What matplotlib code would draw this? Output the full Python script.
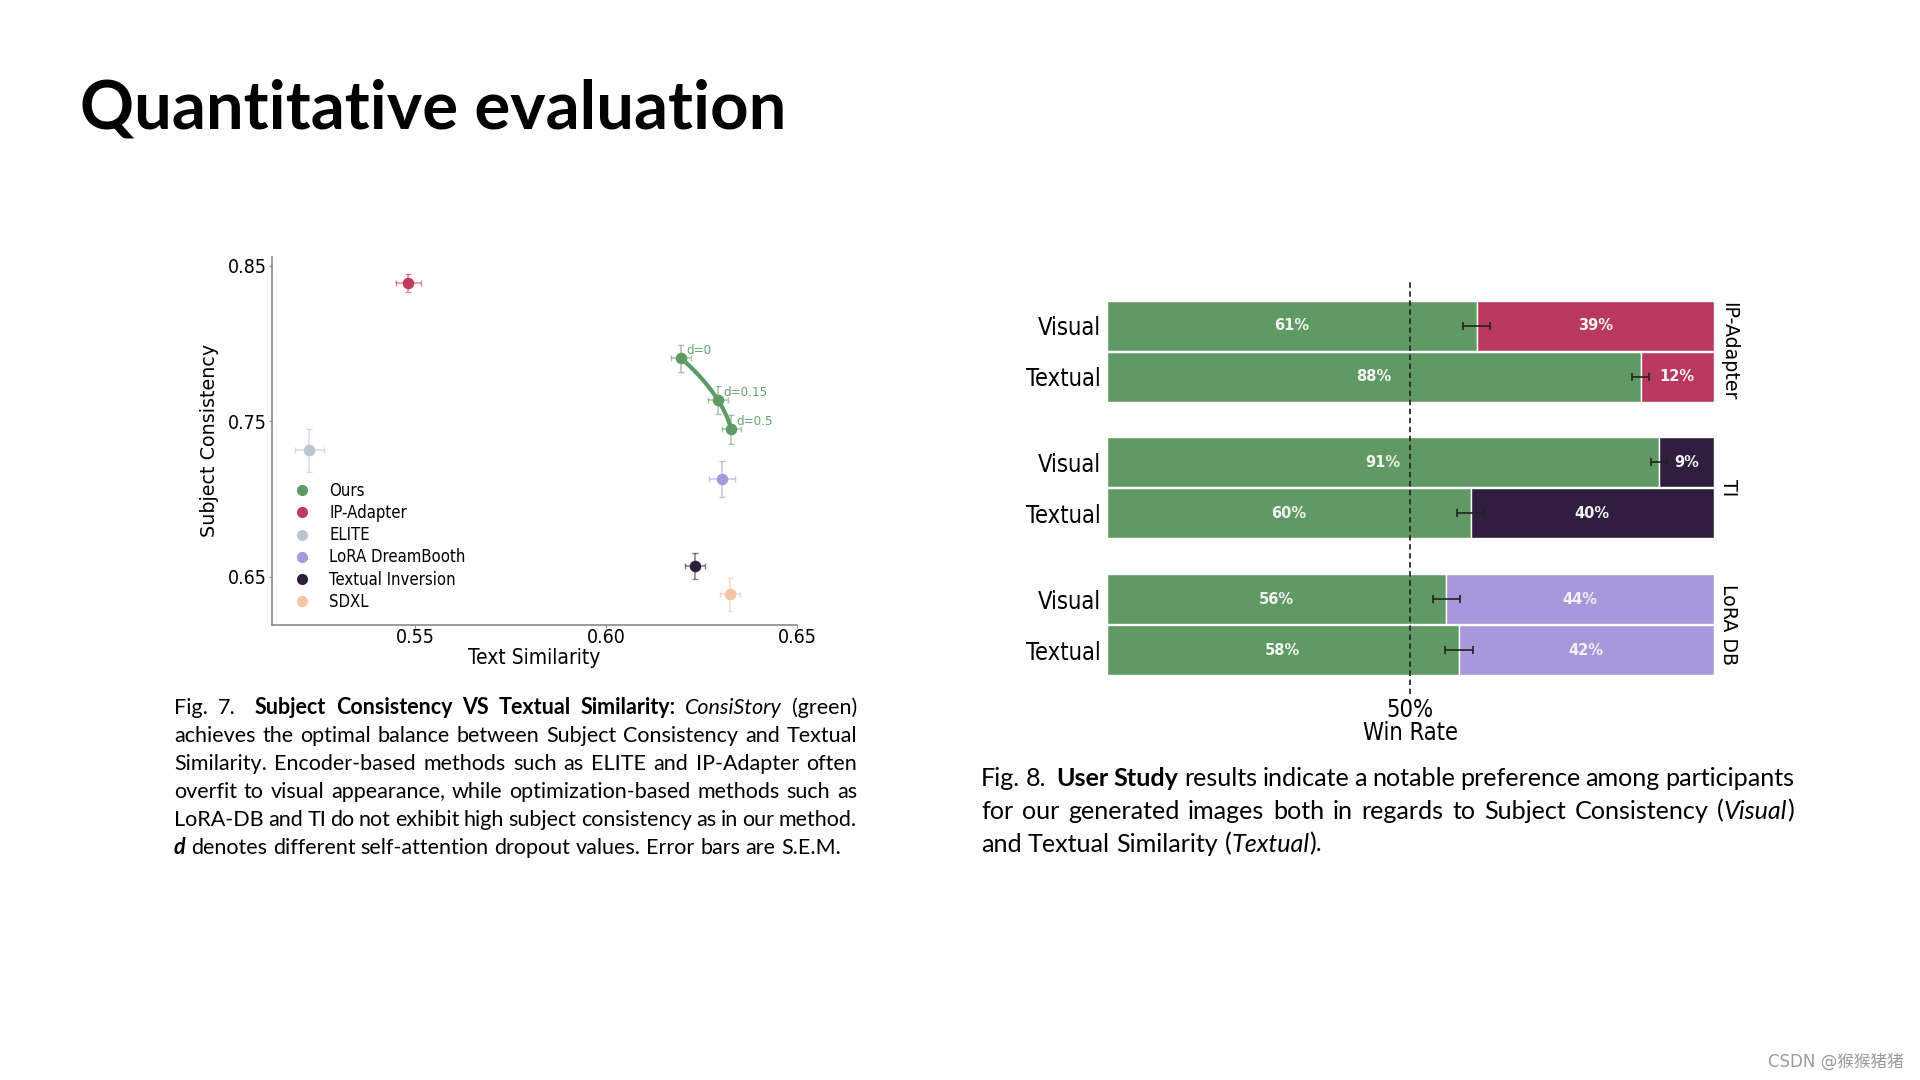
import os
import numpy as np
import matplotlib
matplotlib.use('Agg')
import matplotlib.pyplot as plt
from matplotlib import font_manager
from matplotlib.colors import to_rgba
from matplotlib.lines import Line2D
from matplotlib.transforms import blended_transform_factory

# ---- Fig. 7 : subject consistency vs text similarity
methods = ['Ours', 'IP-Adapter', 'ELITE', 'LoRA DreamBooth', 'Textual Inversion', 'SDXL']
method_colors = ['#5e9a64', '#c0395f', '#b8c5d3', '#a996dc', '#2f1e3d', '#f6c3a5']

ours_labels = ['d=0', 'd=0.15', 'd=0.5']
ours_text = [0.6197, 0.6293, 0.6328]
ours_subj = [0.7904, 0.7636, 0.7448]
ours_text_err = [0.0026, 0.0026, 0.0025]
ours_subj_err = [0.0087, 0.0089, 0.0093]

# IP-Adapter, ELITE, LoRA DreamBooth, Textual Inversion, SDXL
other_text = [0.5482, 0.5222, 0.6303, 0.6233, 0.6324]
other_subj = [0.8391, 0.7312, 0.7131, 0.6568, 0.6387]
other_text_err = [0.0033, 0.0038, 0.0034, 0.0027, 0.0026]
other_subj_err = [0.0057, 0.0137, 0.0115, 0.0085, 0.0106]

x_ticks = [0.55, 0.60, 0.65]
y_ticks = [0.65, 0.75, 0.85]

# ---- Fig. 8 : user study
groups = ['IP-Adapter', 'TI', 'LoRA DB']
aspects = ['Visual', 'Textual']
ours_win = [[61, 88], [91, 60], [56, 58]]
win_err = [[2.2, 1.4], [1.3, 2.2], [2.3, 2.3]]
ours_bar_color = '#5f9a65'
group_colors = ['#b93a5e', '#2f1e3d', '#aa96db']

title = 'Quantitative evaluation'
fig7_lines = [
    [('Fig. 7.  ', 'n'), ('Subject Consistency VS Textual Similarity:', 'b'), (' ', 'n'),
     ('ConsiStory', 'i'), (' (green)', 'n')],
    [('achieves the optimal balance between Subject Consistency and Textual', 'n')],
    [('Similarity. Encoder-based methods such as ELITE and IP-Adapter often', 'n')],
    [('overfit to visual appearance, while optimization-based methods such as', 'n')],
    [('LoRA-DB and TI do not exhibit high subject consistency as in our method.', 'n')],
    [('d', 'bi'), (' denotes different self-attention dropout values. Error bars are S.E.M.', 'n')],
]
fig8_lines = [
    [('Fig. 8.  ', 'n'), ('User Study', 'b'), (' results indicate a notable preference among participants', 'n')],
    [('for our generated images both in regards to Subject Consistency (', 'n'), ('Visual', 'i'), (')', 'n')],
    [('and Textual Similarity (', 'n'), ('Textual', 'i'), (').', 'n')],
]
watermark = 'CSDN @猴猴猪猪'

CAP_FONT = 'Lato'


def font_file(name):
    for f in font_manager.fontManager.ttflist:
        if os.path.basename(f.fname) == name:
            return f.fname
    return None


COND = font_file('DejaVuSansCondensed.ttf')


def chart_font(size):
    # the chart text looks like condensed DejaVu
    if COND:
        return font_manager.FontProperties(fname=COND, size=size)
    return font_manager.FontProperties(family='DejaVu Sans', size=size * 0.9)


W, H = 1920, 1080
fig = plt.figure(figsize=(W / 100, H / 100), dpi=100)
fig.patch.set_facecolor('white')


def box(l, t, r, b):
    return [l / W, 1 - b / H, (r - l) / W, (b - t) / H]


# ================= scatter =================
ax1 = fig.add_axes(box(272, 257, 797, 624.5))
yy = np.linspace(ours_subj[0], ours_subj[-1], 60)
curve = np.polyfit(ours_subj, ours_text, 2)
ax1.plot(np.polyval(curve, yy), yy, color=method_colors[0], lw=3, solid_capstyle='round', zorder=2)

ax1.errorbar(ours_text, ours_subj, xerr=ours_text_err, yerr=ours_subj_err, fmt='none',
             ecolor=to_rgba(method_colors[0], 0.55), elinewidth=1.1, capsize=2.5, capthick=1, zorder=1)
ax1.plot(ours_text, ours_subj, 'o', color=method_colors[0], markersize=7.3, zorder=3)
for x, y, s in zip(ours_text, ours_subj, ours_labels):
    ax1.annotate(s, (x, y), xytext=(5, 8), textcoords='offset pixels', ha='left', va='center',
                 color='#66a46c', fontproperties=chart_font(9.6))

for i in range(len(other_text)):
    c = method_colors[i + 1]
    ax1.errorbar(other_text[i], other_subj[i], xerr=other_text_err[i], yerr=other_subj_err[i],
                 fmt='none', ecolor=to_rgba(c, 0.6), elinewidth=1.1, capsize=2.5, capthick=1, zorder=1)
    ax1.plot(other_text[i], other_subj[i], 'o', color=c, markersize=7.3, zorder=3)

ax1.set_xlim(0.5125, 0.65)
ax1.set_ylim(0.6193, 0.8556)
ax1.set_xticks(x_ticks)
ax1.set_xticklabels(['%.2f' % v for v in x_ticks], fontproperties=chart_font(14))
ax1.set_yticks(y_ticks)
ax1.set_yticklabels(['%.2f' % v for v in y_ticks], fontproperties=chart_font(14))
ax1.tick_params(length=2, pad=2, color='#888888')
ax1.tick_params(axis='x', pad=0.3)
for s in ['top', 'right']:
    ax1.spines[s].set_visible(False)
for s in ['left', 'bottom']:
    ax1.spines[s].set_color('#8a8a8a')
    ax1.spines[s].set_linewidth(1.2)
ax1.set_xlabel('Text Similarity', fontproperties=chart_font(15), labelpad=1)
ax1.set_ylabel('Subject Consistency', family='DejaVu Sans', fontsize=13.8, labelpad=6)

handles = [Line2D([], [], marker='o', ls='none', color=c, markersize=7, label=m)
           for m, c in zip(methods, method_colors)]
ax1.legend(handles=handles, loc='upper left', bbox_to_anchor=(293.4 / W, 1 - 482 / H),
           bbox_transform=fig.transFigure, frameon=False, prop=chart_font(12),
           handlelength=1.0, handletextpad=1.15, labelspacing=0.25, borderpad=0, borderaxespad=0)

# ================= stacked bars =================
ax2 = fig.add_axes(box(1106.6, 281.6, 1713.5, 694))
gap = 2.68
pos = []
for g in range(len(groups)):
    for a in range(len(aspects)):
        y = g * gap + a
        pos.append(y)
        v = ours_win[g][a] / 100
        ax2.barh(y, v, height=0.98, left=0, color=ours_bar_color, edgecolor='white', lw=1)
        ax2.barh(y, 1 - v, height=0.98, left=v, color=group_colors[g], edgecolor='white', lw=1)
        ax2.errorbar(v, y, xerr=win_err[g][a] / 100, fmt='none', ecolor='#222222',
                     elinewidth=1.2, capsize=3, capthick=1.2, zorder=4)
        ax2.text(v / 2, y, '%d%%' % ours_win[g][a], ha='center', va='center', color='#f3f3f3',
                 fontsize=10.5, fontweight='bold', family='DejaVu Sans', zorder=5)
        ax2.text(v + (1 - v) / 2, y, '%d%%' % (100 - ours_win[g][a]), ha='center', va='center',
                 color='#f3f3f3', fontsize=10.5, fontweight='bold', family='DejaVu Sans', zorder=5)

trans = blended_transform_factory(ax2.transAxes, ax2.transData)
for g, grp in enumerate(groups):
    ax2.text(1.009, g * gap + 0.5, grp, transform=trans, rotation=-90, ha='left', va='center',
             family='DejaVu Sans', fontsize=13.7)

ax2.axvline(0.5, color='#2a2a2a', lw=1.3, ls=(0, (3, 2)), zorder=6)
ax2.set_xlim(0, 1)
ax2.set_ylim(7.22, -0.865)
ax2.set_yticks(pos)
ax2.set_yticklabels(aspects * len(groups), fontproperties=chart_font(17))
ax2.set_xticks([0.5])
ax2.set_xticklabels(['50%'], fontproperties=chart_font(17))
ax2.set_xlabel('Win Rate', fontproperties=chart_font(17), labelpad=-1)
ax2.tick_params(length=0, pad=4)
ax2.tick_params(axis='x', pad=3)
for s in ax2.spines.values():
    s.set_visible(False)

# ================= texts =================
renderer = fig.canvas.get_renderer()


def tokens(segs):
    out = []
    gp = 0
    for text, st in segs:
        for k, p in enumerate(text.split(' ')):
            if k > 0:
                gp += 1
            if p:
                if gp or not out:
                    out.append((gp, [(p, st)]))
                else:
                    out[-1][1].append((p, st))
                gp = 0
    return out


def cap_props(st, size):
    return font_manager.FontProperties(family=CAP_FONT, size=size,
                                       weight='bold' if 'b' in st else 'normal',
                                       style='italic' if 'i' in st else 'normal')


def width_of(s, st, size):
    t = fig.text(0, 0, s, fontproperties=cap_props(st, size))
    w = t.get_window_extent(renderer).width
    t.remove()
    return w


def caption(lines, x0, base0, width, step, guess):
    toks = [tokens(l) for l in lines]

    def tight(tk, size):
        # width with spaces squeezed a little
        sp = width_of('a a', 'n', size) - width_of('aa', 'n', size)
        return sum(width_of(p, st, size) for _, w in tk for p, st in w) + 0.75 * sum(g for g, _ in tk) * sp

    widest = max(tight(tk, guess) for tk in toks[:-1])
    size = guess * width / widest
    sp = width_of('a a', 'n', size) - width_of('aa', 'n', size)
    for i, tk in enumerate(toks):
        ws = [sum(width_of(p, st, size) for p, st in w) for _, w in tk]
        gaps = sum(g for g, _ in tk)
        sp_i = (width - sum(ws)) / gaps if i < len(toks) - 1 else sp
        x = x0
        base = base0 + i * step
        for (g, w), ww in zip(tk, ws):
            x += g * sp_i
            xx = x
            for p, st in w:
                fig.text(xx / W, 1 - base / H, p, fontproperties=cap_props(st, size),
                         va='baseline', ha='left', color='black')
                xx += width_of(p, st, size)
            x += ww


caption(fig7_lines, 174, 714.5, 683, 27.8, 14)
caption(fig8_lines, 981, 785.5, 813, 33.1, 16)

# title, sized to the reference width
t = fig.text(0, 0, title, family=CAP_FONT, fontweight='bold', fontsize=44)
tw = t.get_window_extent(renderer).width
t.remove()
fig.text(80 / W, 1 - 128.5 / H, title, family=CAP_FONT, fontweight='bold',
         fontsize=44 * 705 / tw, va='baseline', ha='left', color='black')

fig.text(1904 / W, 1 - 1062 / H, watermark, ha='right', va='center', fontsize=12, color='#9a9a9a',
         family=['DejaVu Sans', 'Noto Sans CJK SC'])

fig.savefig('out.png', dpi=100, facecolor='white')
